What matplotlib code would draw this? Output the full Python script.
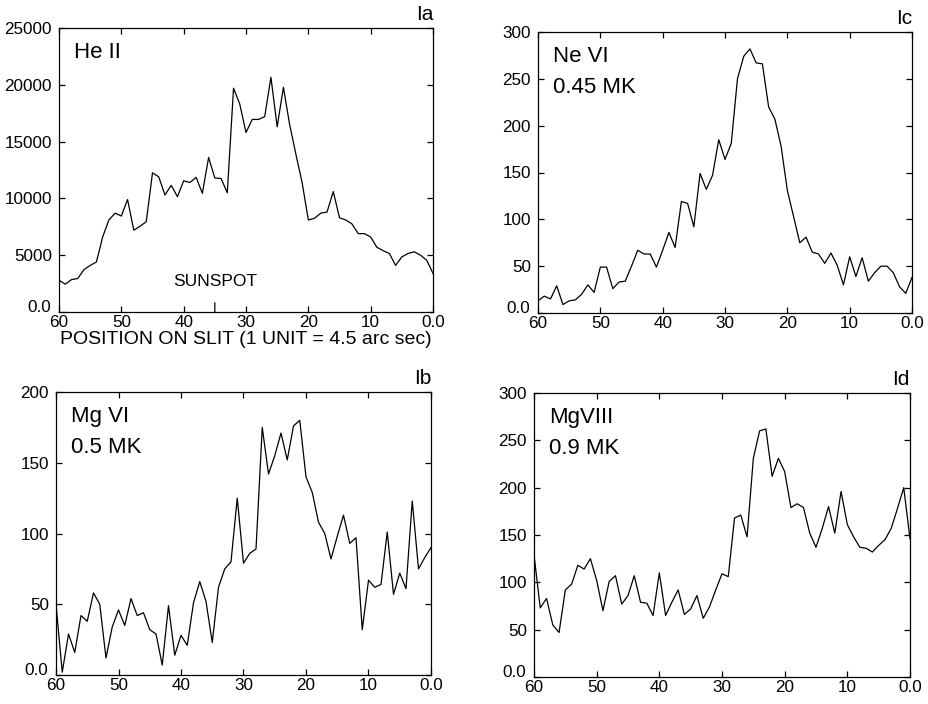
import numpy as np
import matplotlib
matplotlib.use("Agg")
import matplotlib.pyplot as plt
import matplotlib.transforms as mtransforms

plt.rcParams['font.family'] = ['Liberation Sans', 'DejaVu Sans']

# positions on slit (one point per unit, 60 -> 0)
position = list(range(60, -1, -1))

he_ii = [2800, 2450, 2850, 2950, 3730, 4100, 4400, 6600, 8100, 8700,
         8450, 9900, 7200, 7550, 7950, 12250, 11900, 10300, 11150, 10150,
         11550, 11400, 11850, 10450, 13600, 11800, 11750, 10500, 19700, 18300,
         15800, 16950, 16950, 17200, 20660, 16300, 19780, 16500, 13900, 11400,
         8100, 8250, 8700, 8800, 10600, 8300, 8100, 7750, 6900, 6900,
         6600, 5700, 5400, 5150, 4100, 4850, 5150, 5300, 5000, 4550,
         3400]

ne_vi = [13, 18, 15, 29, 9, 13, 14, 20, 30, 22,
         49, 49, 26, 33, 34, 50, 67, 63, 63, 49,
         67, 86, 70, 119, 117, 92, 149, 132, 147, 185,
         164, 181, 250, 274, 282, 267, 266, 220, 207, 178,
         131, 103, 75, 81, 65, 63, 53, 64, 51, 30,
         60, 39, 59, 34, 43, 50, 50, 43, 28, 21,
         38]

mg_vi = [50, 2, 29, 16, 42, 38, 58, 50, 12, 34,
         46, 35, 54, 42, 44, 32, 29, 7, 49, 14,
         28, 21, 51, 66, 52, 23, 62, 75, 80, 125,
         79, 86, 89, 175, 142, 155, 171, 152, 176, 180,
         140, 129, 108, 100, 82, 98, 113, 93, 97, 32,
         67, 62, 64, 101, 57, 72, 61, 123, 75, 83,
         90]

mg_viii = [129, 73, 83, 55, 47, 92, 98, 118, 114, 125,
           102, 70, 101, 107, 77, 86, 107, 79, 78, 65,
           110, 65, 79, 92, 66, 72, 86, 62, 74, 92,
           109, 106, 168, 171, 148, 231, 260, 262, 212, 231,
           217, 179, 183, 179, 152, 137, 157, 180, 152, 196,
           161, 148, 137, 136, 132, 139, 145, 157, 178, 200,
           146]

x_ticks = [60, 50, 40, 30, 20, 10, 0]
x_tick_labels = ['60', '50', '40', '30', '20', '10', '0.0']

W, H = 929, 704
fig = plt.figure(figsize=(W / 100, H / 100), dpi=100)


def make_ax(left, right, top, bottom):
    return fig.add_axes([left / W, (H - bottom) / H, (right - left) / W, (bottom - top) / H])


panels = [
    ((59, 433, 28, 312), he_ii, 25000, 5000,
     ['0.0', '5000', '10000', '15000', '20000', '25000'], ['He II'], 'Ia'),
    ((538, 912, 32, 313), ne_vi, 300, 50,
     ['0.0', '50', '100', '150', '200', '250', '300'], ['Ne VI', '0.45 MK'], 'Ic'),
    ((56, 431, 392, 675), mg_vi, 200, 50,
     ['0.0', '50', '100', '150', '200'], ['Mg VI', '0.5 MK'], 'Ib'),
    ((534, 910, 393, 677), mg_viii, 300, 50,
     ['0.0', '50', '100', '150', '200', '250', '300'], ['MgVIII', '0.9 MK'], 'Id'),
]

for box, data, ymax, ystep, ylabels, texts, tag in panels:
    ax = make_ax(*box)
    ax.plot(position, data, color='black', lw=0.9)
    ax.set_xlim(60, 0)
    ax.set_ylim(0, ymax)
    ax.set_xticks(x_ticks)
    ax.set_xticklabels(x_tick_labels)
    yt = list(range(0, ymax + 1, ystep))
    ax.set_yticks(yt)
    ax.set_yticklabels(ylabels)
    ax.tick_params(direction='in', top=True, right=True, length=4, width=0.9,
                   labelsize=12.3)
    ax.tick_params(axis='y', pad=5)
    ax.tick_params(axis='x', pad=2)
    # lift the bottom "0.0" y label a little so it clears the "60" x label
    lab0 = ax.get_yticklabels()[0]
    lab0.set_transform(lab0.get_transform() +
                       mtransforms.ScaledTranslation(-1 / 100, 6 / 100, fig.dpi_scale_trans))
    for s in ax.spines.values():
        s.set_linewidth(0.9)
    for i, t in enumerate(texts):
        ax.text(0.04, 0.912 - i * 0.108, t, transform=ax.transAxes,
                fontsize=16, va='center', ha='left')
    ax.text(1.0, 1.015, tag, transform=ax.transAxes, fontsize=15,
            ha='right', va='bottom')
    if tag == 'Ia':
        ax.set_xlabel('POSITION ON SLIT (1 UNIT = 4.5 arc sec)', fontsize=14,
                      labelpad=1)
        ax.annotate('SUNSPOT', xy=(35, 0), xytext=(35, ymax * 0.108),
                    ha='center', va='center', fontsize=12.5,
                    arrowprops=dict(arrowstyle='-', color='black', lw=0.9,
                                    shrinkA=8, shrinkB=0))

fig.savefig('out.png', dpi=100)
